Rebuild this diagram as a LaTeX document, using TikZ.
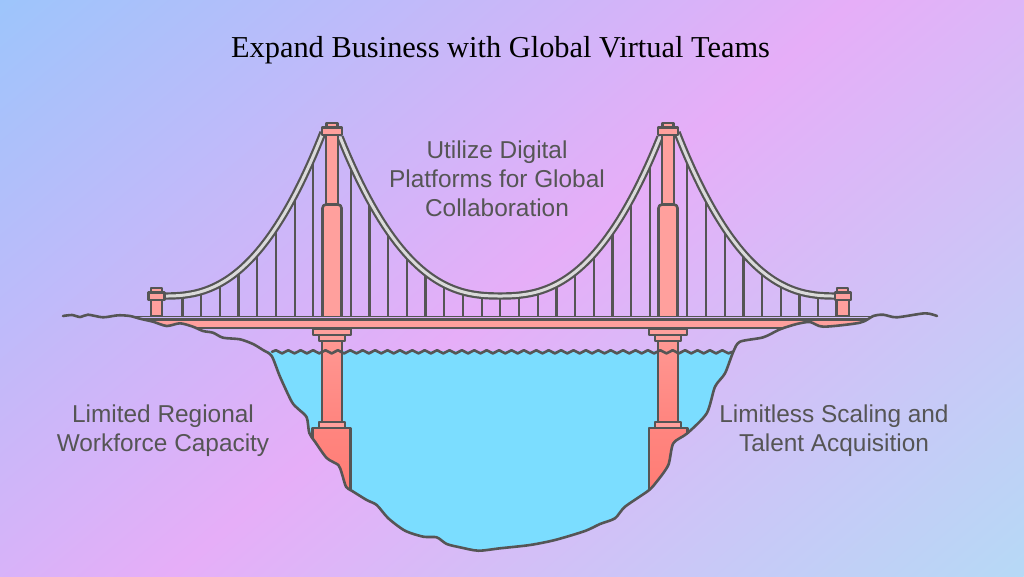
\documentclass[tikz,border=0pt]{standalone}
\usepackage{fontspec}
\setmainfont{Liberation Sans}
\newfontfamily\titlefont{Liberation Serif}
\usetikzlibrary{decorations.pathmorphing}

\definecolor{skyA}{HTML}{9DC5FB}
\definecolor{skyB}{HTML}{E6AEF8}
\definecolor{skyC}{HTML}{B6D9F6}
\definecolor{inkgray}{HTML}{555555}
\definecolor{waterblue}{HTML}{7BDDFF}
\definecolor{deckpink}{HTML}{FFA09D}
\definecolor{pierpink}{HTML}{FF9792}
\definecolor{pierred}{HTML}{FF857F}
\definecolor{basered}{HTML}{FF7B73}
\definecolor{cablegray}{HTML}{DADADA}
\pgfdeclarehorizontalshading{skyfade}{1500bp}{color(0bp)=(skyA); color(548bp)=(skyB); color(1096bp)=(skyC)}

% heights of the main cables
\newcommand{\midCable}[1]{296-159*(abs(#1-500)/160)^2.5}
\newcommand{\leftCable}[1]{296-161*(abs(#1-165)/157)^2.45}
\newcommand{\rightCable}[1]{296-161*(abs(835-#1)/157)^2.45}

\begin{document}
\begin{tikzpicture}[
  x=1pt, y=-1pt,
  line join=round,
  linesty/.style={draw=inkgray, line width=2.6pt},
  hangersty/.style={draw=inkgray, line width=2.2pt},
  decksty/.style={linesty, fill=deckpink},
  capsty/.style={linesty, fill=deckpink},
  piersty/.style={linesty, top color=pierpink, bottom color=pierred},
  basesty/.style={linesty, top color=pierred, bottom color=basered},
  cableout/.style={draw=inkgray, line width=7.4pt, line cap=butt},
  cablein/.style={draw=cablegray, line width=3pt, line cap=butt},
  landsty/.style={draw=inkgray, line width=2.6pt, line cap=round},
  stripsty/.style={draw=inkgray, line width=1.8pt},
  labeltext/.style={font=\fontsize{24.4}{29}\selectfont, text=inkgray, align=center, inner sep=0pt},
  titletext/.style={font=\titlefont\fontsize{30.4}{36}\selectfont, text=black, inner sep=0pt}]

\useasboundingbox (0,0) rectangle (1024,576);
\clip (0,0) rectangle (1024,576);
\node[rotate=-50, inner sep=0pt] (sky) at (512,288) {\pgfuseshading{skyfade}};

% land line, kept for the water, the deck and the footings
\path[save path=\landPath] plot[smooth, tension=0.45] coordinates {
  (63,316) (72,315) (80,317) (88,314.7) (103,317.3) (118,315.3) (130,316)
  (140,318.7) (153,321.7) (166.7,326) (180,323.3) (193,326.7) (203,331) (213,332.7)
  (223,337.7) (240,339.3) (253,344) (263,350) (271.7,356) (280,376.7) (291.7,401.7)
  (298.3,409) (306.7,417.3) (309.3,433) (315,441.7) (326.7,458) (338.3,465) (341.7,473)
  (346,486.7) (351.7,490.7) (366.7,500) (376.7,505) (388.3,518.3) (405,530.7) (423.3,536.7)
  (436.7,537.3) (446.7,544) (460,547.3) (478.3,550.7) (500,548.3) (530,545) (555,540)
  (585,531) (600,524) (615,518.3) (625,506.7) (648.3,490.7) (656.7,481.7) (668.3,465)
  (673.3,443.3) (687.3,433.3) (706.7,413.3) (715,386.7) (725,373.3) (733.3,351.7) (740,341.7)
  (763.3,337.3) (780,329.3) (796.7,324) (810,322) (823.3,326.7) (860,322.7) (873.3,316)
  (883.3,314.7) (896.7,317.3) (925,313.3) (937,316)};

% water
\begin{scope}
  \clip (200,351.5) rectangle (800,576);
  \fill[waterblue, use path=\landPath];
\end{scope}

% hangers
\foreach \k in {-8,...,-1} {
  \pgfmathsetmacro{\hx}{332+18.7*\k}
  \pgfmathsetmacro{\hy}{\leftCable{\hx}}
  \draw[hangersty] (\hx,\hy) -- (\hx,316);
}
\foreach \k in {1,...,17} {
  \pgfmathsetmacro{\hx}{332+18.7*\k}
  \pgfmathsetmacro{\hy}{\midCable{\hx}}
  \draw[hangersty] (\hx,\hy) -- (\hx,316);
}
\foreach \k in {19,...,26} {
  \pgfmathsetmacro{\hx}{332+18.7*\k}
  \pgfmathsetmacro{\hy}{\rightCable{\hx}}
  \draw[hangersty] (\hx,\hy) -- (\hx,316);
}

% cables
\foreach \cablesty in {cableout,cablein} {
  \draw[\cablesty] plot[domain=165:323, samples=50] (\x,{\leftCable{\x}});
  \draw[\cablesty] plot[domain=340:660, samples=80] (\x,{\midCable{\x}});
  \draw[\cablesty] plot[domain=677:835, samples=50] (\x,{\rightCable{\x}});
}

% side towers
\draw[capsty] (151,288) rectangle (162,293);
\draw[capsty] (151,300) rectangle (162,316);
\draw[capsty] (148.5,292.7) rectangle (164.5,300);
\draw[capsty] (837,288) rectangle (848,293);
\draw[capsty] (836.5,300) rectangle (849,316);
\draw[capsty] (835,292.7) rectangle (851,300);

% main towers
\foreach \tx in {332,668} {
  \draw[capsty] (\tx-5.5,123) rectangle (\tx+5.5,127.5);
  \draw[capsty] (\tx-6,135) rectangle (\tx+6,206);
  \draw[capsty] (\tx-10,127.5) rectangle (\tx+10,135);
  \draw[capsty, rounded corners=3.5pt] (\tx-9.5,316) |- (\tx+9.5,204.5) -- (\tx+9.5,316);
}

% deck and footings follow the land
\begin{scope}
  \path[use path=\landPath, clip];
  \draw[decksty] (130,319.6) rectangle (880,328);
  \draw[basesty] (312.5,428) rectangle (350.7,500);
  \draw[basesty] (649,428) rectangle (687.3,500);
\end{scope}
\draw[stripsty] (136,316.5) -- (872,316.5);
\draw[stripsty] (143,319.7) -- (865,319.7);

% piers
\foreach \px in {332,668} {
  \draw[piersty] (\px-10,341) rectangle (\px+10,422);
  \draw[capsty] (\px-19,329) rectangle (\px+19,335);
  \draw[capsty] (\px-13,335) rectangle (\px+13,341);
  \draw[capsty] (\px-13,422) rectangle (\px+13,428);
}

% waves
\draw[landsty, decorate, decoration={snake, segment length=12.4pt, amplitude=1.6pt}] (272,351.8) -- (733,351.8);

\draw[landsty, use path=\landPath];

\node[titletext] (title) at (500.5,50.5) {Expand Business with Global Virtual Teams};
\node[labeltext] (middle) at (497,178.5) {Utilize Digital\\Platforms for Global\\Collaboration};
\node[labeltext] (left) at (163,430.5) {Limited Regional\\Workforce Capacity};
\node[labeltext] (right) at (834,430.5) {Limitless Scaling and\\Talent Acquisition};

\end{tikzpicture}
\end{document}
